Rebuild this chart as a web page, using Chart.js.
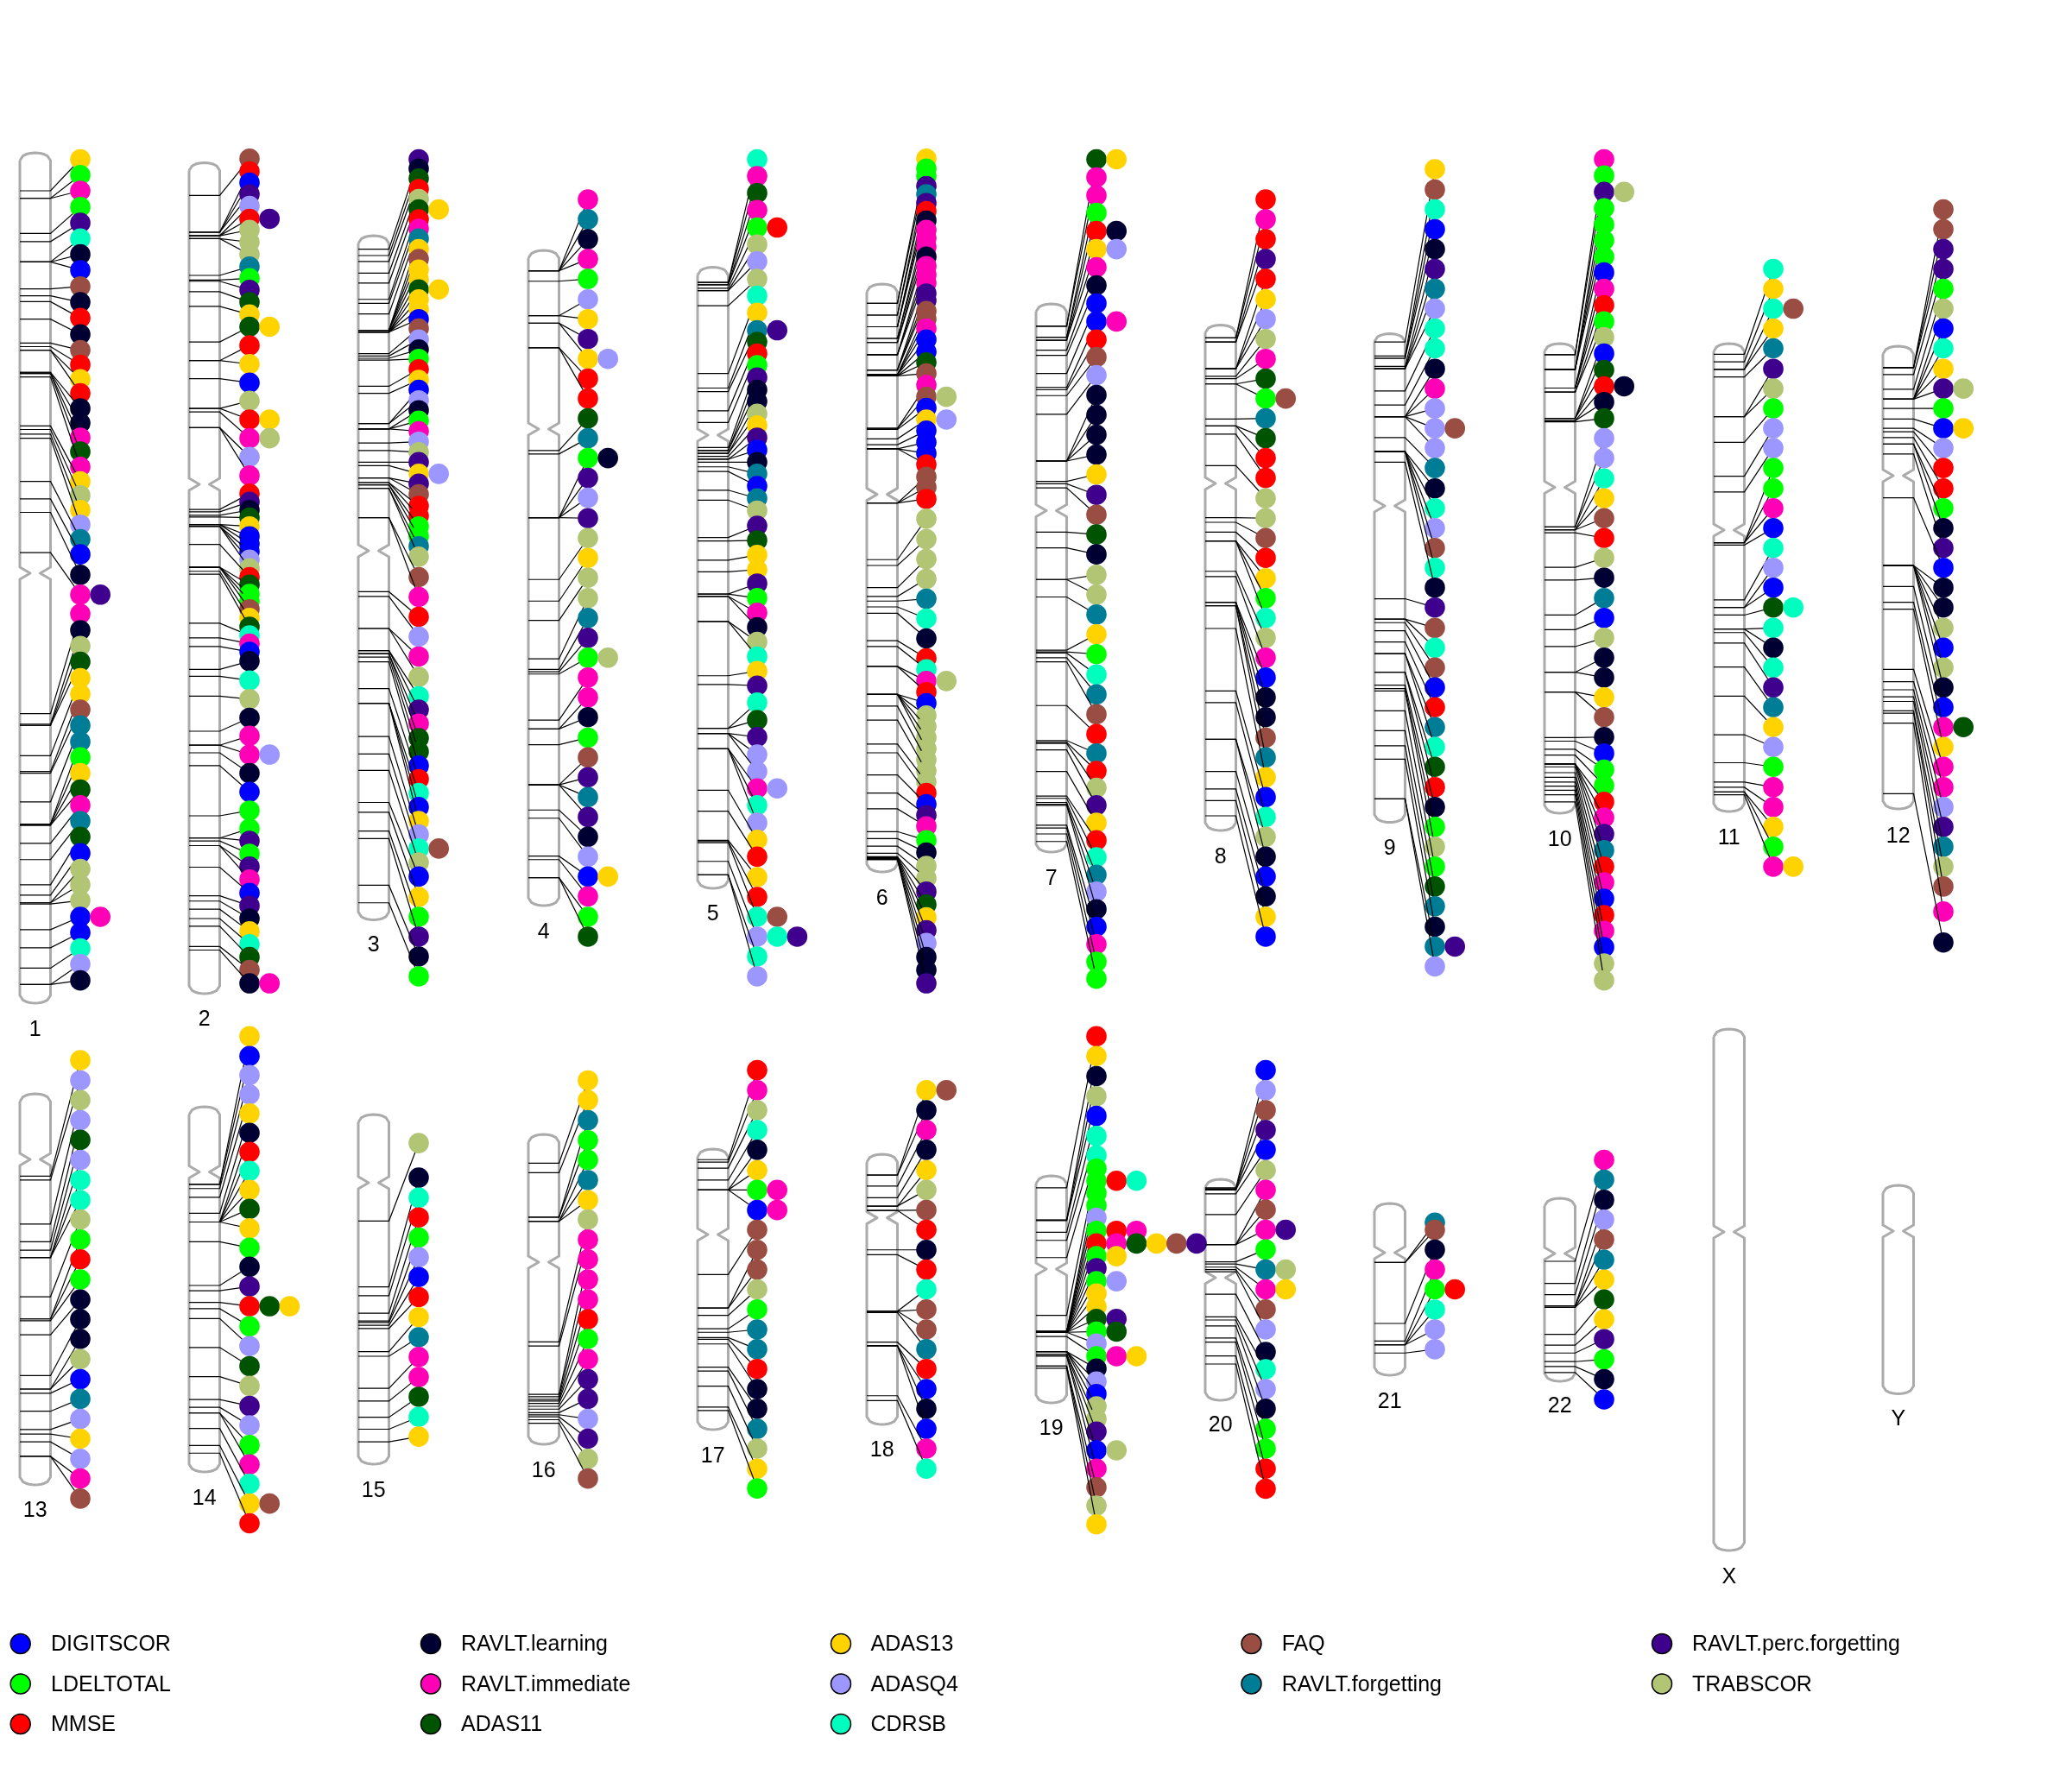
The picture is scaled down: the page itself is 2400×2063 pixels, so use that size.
<!DOCTYPE html>
<html><head><meta charset="utf-8"><title>PhenoGram</title>
<style>html,body{margin:0;padding:0;background:#fff}canvas{display:block}</style>
<script src="https://cdn.jsdelivr.net/npm/chart.js@4/dist/chart.umd.js"></script>
</head><body><canvas id="c" width="2400" height="2063"></canvas>
<script>
// Traits
const traitCodes = "B G R N P D Y L C F T U O".split(" ");
const traitNames = ["DIGITSCOR","LDELTOTAL","MMSE","RAVLT.learning","RAVLT.immediate","ADAS11","ADAS13","ADASQ4","CDRSB","FAQ","RAVLT.forgetting","RAVLT.perc.forgetting","TRABSCOR"];
const traitColors = ["#0000FF","#00FF00","#FF0000","#000033","#FF00B6","#005300","#FFD300","#9C96FF","#00FFBE","#9A4D42","#007D96","#3F008E","#B1C575"];
const chromosomes = ["1","2","3","4","5","6","7","8","9","10","11","12","13","14","15","16","17","18","19","20","21","22","X","Y"];

// One token per label row; extra letters are further traits on the same SNP
const chr1Traits = "Y G P G U C N B F N R N F R Y R N N P D P Y O Y L T B N PU P N O D Y Y F T T G Y D P T D B O O O BP B C L N".split(" ");
const chr1Rows = [51,78,105,133,160,187,214,241,269,296,323,351,378,403,428,452,478,503,528,552,578,603,627,652,677,702,728,763,797,830,858,885,912,940,967,994,1021,1049,1076,1103,1131,1158,1185,1212,1240,1267,1294,1321,1349,1376,1403,1430,1458];
const chr1Bands = [105,118,118,178,192,227,227,227,273,285,295,325,366,372,378,378,416,416,418,418,424,508,514,522,529,603,633,656,725,1001,1019,1021,1021,1073,1100,1103,1152,1190,1190,1192,1192,1223,1251,1294,1312,1325,1325,1327,1371,1402,1437,1465,1465];
const chr2Traits = "F R B U L RU O O O T G U D Y DY R Y B O RY PO L P R U N D Y B B B L O R D G G F Y D C P B N C O N P PL N B G G U G U P B U N Y C D F NP".split(" ");
const chr2Rows = [50,72,91,111,131,153,172,193,214,235,255,275,296,317,338,370,402,434,465,497,529,561,593,624,638,652,665,680,697,710,723,737,752,767,780,796,808,822,837,852,867,881,895,911,944,976,1008,1039,1071,1103,1135,1167,1198,1219,1241,1263,1285,1308,1330,1352,1374,1396,1418,1440,1463];
const chr2Bands = [113,176,176,176,182,182,182,187,187,250,258,260,278,303,364,396,396,427,478,478,484,511,511,651,655,661,664,677,677,677,680,680,680,711,750,750,750,750,757,762,846,871,886,925,937,971,1031,1055,1055,1068,1090,1176,1214,1214,1219,1227,1227,1264,1313,1322,1336,1352,1365,1400,1406];
const chr3Traits = "U N D R O DY R P T Y F Y Y DY Y Y B F L N G R Y B L N G P L O U YL U F R R G G T O F P R L P O C U P D D B R C B Y L CF O B Y G U N G".split(" ");
const chr3Rows = [51,67,84,102,119,137,154,170,187,205,222,240,257,274,291,308,325,341,360,377,393,411,429,446,464,481,499,517,535,553,570,590,607,625,645,662,680,697,714,732,767,801,835,869,903,938,971,994,1018,1043,1066,1090,1113,1137,1161,1185,1208,1232,1256,1280,1315,1349,1383,1417,1451];
const chr3Bands = [205,216,226,246,263,291,298,316,344,344,344,344,347,347,347,347,347,384,388,392,395,440,452,504,504,513,513,513,537,550,570,576,597,597,605,605,609,609,615,615,665,665,792,800,855,855,893,893,898,898,904,912,958,983,983,983,1040,1070,1098,1153,1170,1202,1215,1295,1325];
const chr4Traits = "P T N P G L Y U YL R R D T GN U L U O Y O O T U GO P P N G F U T U N L BY P G D".split(" ");
const chr4Rows = [120,154,188,222,256,291,325,359,393,427,461,495,529,563,597,631,666,700,734,768,803,837,871,905,939,973,1007,1042,1076,1110,1144,1178,1212,1246,1280,1314,1349,1383];
const chr4Bands = [242,242,242,242,260,319,319,332,332,374,374,550,556,665,665,665,665,771,808,841,907,925,929,933,1012,1027,1027,1054,1123,1123,1123,1123,1166,1180,1245,1251,1282,1282];
const chr5Traits = "C P D P GR O L O C Y TU D R G U N N O Y U B N T B T O U D Y Y U G P N O C Y U C D U L L PL C L Y R Y R CF LCU C L".split(" ");
const chr5Rows = [51,80,109,138,168,197,226,256,285,314,344,364,384,404,425,446,466,487,507,528,549,570,590,611,632,653,679,704,729,754,778,803,828,853,878,903,928,953,982,1012,1041,1071,1100,1129,1158,1188,1217,1246,1281,1315,1349,1383,1417,1451];
const chr5Bands = [262,262,266,266,272,276,276,302,418,443,449,482,502,545,550,550,555,555,560,565,565,570,578,586,618,635,699,705,738,758,796,796,800,800,843,843,936,951,1026,1026,1035,1035,1035,1061,1061,1061,1132,1168,1218,1220,1222,1254,1277,1277];
const chr6Traits = "Y G G U T U R N P P P N P P P U U F F P B B D F P FO B YL B B B R F F R O O O O T C N R C PO R B O O O O O O O R B U P G N O O U D Y U L N N U".split(" ");
const chr6Rows = [50,67,80,97,111,126,140,156,172,186,201,218,234,249,263,281,293,311,325,341,360,381,399,418,438,458,477,497,516,536,555,574,595,613,633,667,702,736,770,804,838,872,906,925,945,964,983,1004,1023,1042,1061,1080,1099,1118,1137,1156,1175,1194,1218,1239,1262,1283,1306,1328,1350,1372,1394,1418,1440,1463];
const chr6Bands = [298,298,318,318,338,338,338,358,358,365,365,386,386,386,412,412,412,420,420,420,420,422,422,422,512,512,514,530,540,547,547,547,640,640,640,737,747,785,800,808,818,829,876,886,920,920,968,968,968,968,968,988,1012,1053,1068,1106,1137,1164,1203,1215,1228,1240,1246,1247,1248,1249,1250,1250,1251,1251];
const chr7Traits = "DY P P G RN YL P N B BP R F L N N N N Y U F D N O O T Y G C T F R T R O U Y R C T L N B P G G".split(" ");
const chr7Rows = [51,82,113,143,174,205,236,267,298,329,360,390,421,455,489,523,557,591,626,660,694,728,763,797,831,865,899,934,968,1002,1036,1069,1099,1128,1158,1188,1218,1247,1277,1306,1336,1366,1396,1426,1455];
const chr7Bands = [337,337,356,356,361,361,378,387,418,442,446,456,488,568,568,568,568,603,607,614,690,717,771,771,801,892,895,897,905,912,987,1047,1050,1052,1063,1100,1142,1146,1153,1156,1158,1192,1197,1207,1220];
const chr8Traits = "R P R U R Y L O P D GF T D R R O O F R Y G C O P B N N F T Y B C O N B N Y B".split(" ");
const chr8Rows = [120,154,188,222,256,291,325,359,393,427,461,495,529,563,597,632,666,700,734,769,803,837,871,905,939,973,1007,1042,1076,1110,1144,1178,1212,1246,1280,1314,1349,1383];
const chr8Bands = [357,357,364,364,410,410,410,423,427,436,436,496,508,508,522,576,665,673,690,705,705,705,757,766,810,810,810,816,816,855,962,982,1045,1045,1100,1130,1150,1176];
const chr9Traits = "Y F C B N U T L C C N P L LF L T N C L F C N U F C F B R T C D R N G O G D T N TU L".split(" ");
const chr9Rows = [68,103,137,171,205,239,273,307,341,375,410,444,478,512,546,580,615,649,683,717,751,785,819,854,888,922,956,990,1024,1058,1092,1127,1161,1195,1229,1263,1297,1331,1366,1400,1434];
const chr9Bands = [364,388,392,392,406,410,410,410,448,472,492,492,492,492,492,528,552,552,552,552,552,570,804,839,839,845,859,878,898,898,930,930,952,958,962,996,1030,1056,1079,1147,1147];
const chr10Traits = "P G UO G G G G B P R G O B D RN N D L L C Y F R O N T B O N N Y F N B G G R P U T R P B R P B O O".split(" ");
const chr10Rows = [51,79,107,135,163,190,218,245,273,301,329,356,384,412,440,467,495,529,563,598,632,666,700,734,768,803,837,871,905,939,973,1007,1041,1069,1097,1124,1152,1179,1207,1235,1263,1290,1318,1346,1373,1401,1429,1458];
const chr10Bands = [386,386,411,411,411,411,443,443,443,450,450,495,495,495,499,499,501,681,681,686,686,686,691,750,772,832,857,886,930,930,964,964,1042,1048,1062,1072,1087,1087,1087,1087,1092,1102,1110,1118,1125,1132,1140,1152];
const chr11Traits = "C Y CF Y T U O G L L G G P B C L B DC C N C U T Y L G P P Y G PY".split(" ");
const chr11Rows = [239,273,307,341,375,410,444,478,512,546,580,615,649,683,717,751,785,819,854,888,922,956,990,1024,1058,1092,1127,1161,1195,1229,1263];
const chr11Bands = [385,398,411,411,424,492,492,536,594,621,708,708,708,712,806,819,819,832,856,856,862,880,921,971,1037,1085,1118,1127,1135,1135,1140];
const chr12Traits = "F F U U G O B C Y UO G BY L R R G N U B N N O B O N B PD Y P P L U T O F P N".split(" ");
const chr12Rows = [137,171,205,239,273,307,341,375,410,444,478,512,546,580,615,649,683,717,751,785,819,854,888,922,956,990,1024,1058,1092,1127,1161,1195,1229,1263,1297,1340,1393];
const chr12Bands = [408,408,408,420,445,462,462,462,462,462,478,496,512,518,528,539,539,556,631,747,747,747,747,747,747,783,810,822,925,946,960,972,980,996,1000,1017,1138];
const chr13Traits = "Y L O L D L C C O G R G N N N O B T L Y L P F".split(" ");
const chr13Rows = [118,175,231,288,344,401,458,515,570,627,683,740,797,853,909,966,1023,1079,1136,1192,1249,1305,1362];
const chr13Bands = [447,458,583,633,657,678,678,678,789,852,852,857,897,1013,1051,1051,1063,1114,1166,1179,1201,1242,1242];
const chr14Traits = "Y B L L Y N R C Y D Y G N U RDY G L D O U L G P C YF R".split(" ");
const chr14Rows = [50,106,160,215,269,324,378,432,486,540,595,650,704,760,816,873,929,986,1042,1099,1154,1210,1265,1320,1376,1432];
const chr14Bands = [470,470,482,507,552,577,577,577,577,577,577,633,757,772,805,823,851,933,1016,1081,1103,1119,1119,1163,1211,1233];
const chr15Traits = "O N C R G L B R Y T P P D C Y".split(" ");
const chr15Rows = [353,451,508,564,621,677,733,790,847,904,960,1017,1073,1130,1186];
const chr15Bands = [574,761,786,836,858,862,870,879,945,958,1049,1085,1131,1165,1201];
const chr16Traits = "Y Y T G G T Y O P P P P R G P U U L U O F".split(" ");
const chr16Rows = [175,231,288,345,401,458,515,570,627,683,740,797,853,909,966,1023,1079,1136,1192,1249,1305];
const chr16Bands = [410,437,563,563,575,575,575,917,929,1066,1073,1080,1085,1092,1100,1108,1118,1124,1130,1138,1148];
const chr17Traits = "R P O C N Y GP BP F F F O G T T R N N T O Y G".split(" ");
const chr17Rows = [146,203,260,316,372,430,486,543,599,656,712,768,825,882,938,994,1051,1107,1164,1220,1277,1333];
const chr17Bands = [400,407,424,458,486,486,486,486,726,821,821,842,880,890,905,910,923,989,1000,1043,1102,1112];
const chr18Traits = "YF N P N Y O F R N R C F F T R B N B P C".split(" ");
const chr18Rows = [203,260,316,372,430,486,543,599,656,712,768,825,882,938,994,1051,1107,1164,1220,1277];
const chr18Bands = [444,444,475,508,532,532,544,544,656,670,830,830,830,834,918,928,928,928,1070,1084];
const chr19Traits = "R Y N O B C C G GRC G G L GRP RPDYFU GY U GL Y Y DU GD L GPY N L B O O U BO P F O Y".split(" ");
const chr19Rows = [50,106,163,220,276,333,388,425,460,495,530,565,602,638,674,708,745,780,817,852,888,922,958,993,1030,1065,1100,1136,1172,1225,1277,1330,1382,1435];
const chr19Bands = [480,571,572,573,606,629,678,842,888,888,888,888,888,888,888,890,890,890,890,890,890,890,902,945,945,945,945,952,952,957,957,986,986,992];
const chr20Traits = "B L F U B O P F PU G TO PY F L N C L N G G R R".split(" ");
const chr20Rows = [146,203,260,316,372,430,486,542,599,655,712,768,825,882,946,995,1051,1107,1164,1220,1277,1334];
const chr20Bands = [480,482,484,486,497,556,641,641,641,690,696,705,712,718,782,846,855,872,906,918,957,980];
const chr21Traits = "T F N P GR C L L".split(" ");
const chr21Rows = [545,564,617,670,723,777,830,883];
const chr21Bands = [651,651,814,861,871,871,871,893];
const chr22Traits = "P T N L F T Y D Y U G N B".split(" ");
const chr22Rows = [377,430,484,537,590,644,697,750,803,856,910,963,1017];
const chr22Bands = [648,707,737,767,767,771,771,843,872,893,916,929,945];
const chrXTraits = [], chrXRows = [], chrXBands = [];
const chrYTraits = [], chrYRows = [], chrYBands = [];

const allTraits = [chr1Traits,chr2Traits,chr3Traits,chr4Traits,chr5Traits,chr6Traits,chr7Traits,chr8Traits,chr9Traits,chr10Traits,chr11Traits,chr12Traits,chr13Traits,chr14Traits,chr15Traits,chr16Traits,chr17Traits,chr18Traits,chr19Traits,chr20Traits,chr21Traits,chr22Traits,chrXTraits,chrYTraits];
const allRows = [chr1Rows,chr2Rows,chr3Rows,chr4Rows,chr5Rows,chr6Rows,chr7Rows,chr8Rows,chr9Rows,chr10Rows,chr11Rows,chr12Rows,chr13Rows,chr14Rows,chr15Rows,chr16Rows,chr17Rows,chr18Rows,chr19Rows,chr20Rows,chr21Rows,chr22Rows,chrXRows,chrYRows];
const allBands = [chr1Bands,chr2Bands,chr3Bands,chr4Bands,chr5Bands,chr6Bands,chr7Bands,chr8Bands,chr9Bands,chr10Bands,chr11Bands,chr12Bands,chr13Bands,chr14Bands,chr15Bands,chr16Bands,chr17Bands,chr18Bands,chr19Bands,chr20Bands,chr21Bands,chr22Bands,chrXBands,chrYBands];

// Chromosome extents on the page
const chromTop = [177,188.5,273,290,309.6,329,352,376.5,386.6,398,398,401, 1267,1282,1291,1314,1331,1337,1362,1366,1394,1388,1192,1373];
const chromBottom = [1162,1151,1065.5,1049,1029,1010,987,962,952.6,942,940,937, 1720,1705,1696,1673,1656,1650,1625,1622,1593,1600,1796,1614.5];
const chromCentromere = [664,561,638,497,504,572.6,591.5,560,586,564.5,614,551, 1343,1357.5,1370,1462,1430,1410.6,1470,1480,1451,1452,1427,1426];
const chromLabelY = [1193,1181,1095,1080,1059,1041,1018,993,983,973,971.5,969, 1750.6,1736,1727,1704,1687,1680,1655,1651,1624,1629.5,1827,1644];
const columnLeft = [23,219,415,612,808,1004,1200,1396,1592,1789,1985,2181];
const columnDots = [93,289,485,681,877,1073,1270,1466,1662,1858,2054,2251];
const chromWidth = 35.5, dotRadius = 11.8, dotStep = 23.2, capHeight = 9;
// Reading units of each chromosome's label and band arrays
const readOffset = i => i < 12 ? 150 : 1180;
const readScale = i => i < 12 ? 1.4792 : (i < 20 ? 2.45 : 2.306);

const legendColumnsDot = [23.7,499,974,1449.5,1925];
const legendColumnsText = [59,534,1008.5,1484.7,1960];
const legendRowsY = [1904,1950.5,1997];
const legendPerColumn = [3,3,3,2,2];

const colorOf = c => traitColors[traitCodes.indexOf(c)];
const datasets = [];
let drawIdx = 0;
function add(ds){ ds.order = -drawIdx; drawIdx++; ds.showLine = ds.showLine !== false; datasets.push(ds); }

function outline(i){
  const col = i % 12, L = columnLeft[col], R = L + chromWidth, T = chromTop[i], B = chromBottom[i], C = chromCentromere[i];
  const p = [], n = 10;
  for (let a = 0; a <= n; a++){ const u = 2*a/n - 1; p.push({x:L + chromWidth*a/n, y:T + capHeight*(1 - Math.sqrt(1 - u*u))}); }
  p.push({x:R,y:C-7},{x:R-12,y:C},{x:R,y:C+7});
  for (let a = 0; a <= n; a++){ const u = 2*a/n - 1; p.push({x:R - chromWidth*a/n, y:B - capHeight*(1 - Math.sqrt(1 - u*u))}); }
  p.push({x:L,y:C+7},{x:L+12,y:C},{x:L,y:C-7},{x:L,y:T+capHeight});
  return p;
}
chromosomes.forEach((name,i) => add({label:"chr"+name, data:outline(i), borderColor:"#ABABAB", borderWidth:3, pointRadius:0, borderJoinStyle:"round"}));

chromosomes.forEach((name,i) => {
  const col = i % 12, L = columnLeft[col], R = L + chromWidth, cx = columnDots[col], off = readOffset(i), sc = readScale(i);
  const tr = allTraits[i], rows = allRows[i], bands = allBands[i];
  if (tr.length !== rows.length || tr.length !== bands.length) throw new Error("length mismatch chr"+name+": "+tr.length+" "+rows.length+" "+bands.length);
  tr.forEach((tok,k) => {
    const y = off + rows[k]/sc, b = off + bands[k]/sc, codes = tok.split("");
    const pts = [{x:L,y:b},{x:R,y:b},{x:cx,y:y}], rad = [0,0,dotRadius], fill = ["#000","#000",colorOf(codes[0])];
    codes.slice(1).forEach((c,e) => {
      pts.push({x:null,y:null},{x:cx+(e+1)*dotStep,y:y}); rad.push(0,dotRadius); fill.push("#000",colorOf(c));
    });
    add({label:"chr"+name+" SNP "+(k+1), data:pts, borderColor:"#000", borderWidth:1.2, pointRadius:rad, pointBackgroundColor:fill, pointBorderWidth:0, spanGaps:false});
  });
});

// Legend marks (column by column)
const legendItems = [];
{ let t = 0; legendPerColumn.forEach((cnt,c) => { for (let r = 0; r < cnt; r++){ legendItems.push({t:t, c:c, r:r}); t++; } }); }
legendItems.forEach(it => add({label:traitNames[it.t], showLine:false, data:[{x:legendColumnsDot[it.c],y:legendRowsY[it.r]}], pointRadius:11.5, pointBackgroundColor:traitColors[it.t], pointBorderColor:"#000", pointBorderWidth:1.5}));

const textPlugin = { id:"texts", afterDatasetsDraw(chart){
  const ctx = chart.ctx, sx = chart.scales.x, sy = chart.scales.y;
  ctx.save(); ctx.fillStyle = "#000"; ctx.font = '25px "Liberation Sans"'; ctx.textBaseline = "middle";
  ctx.textAlign = "center";
  chromosomes.forEach((name,i) => ctx.fillText(name, sx.getPixelForValue(columnLeft[i%12]+chromWidth/2), sy.getPixelForValue(chromLabelY[i])));
  ctx.textAlign = "left";
  legendItems.forEach(it => ctx.fillText(traitNames[it.t], sx.getPixelForValue(legendColumnsText[it.c]), sy.getPixelForValue(legendRowsY[it.r]+1.5)));
  ctx.restore();
}};

new Chart(document.getElementById("c"), {
  type:"scatter",
  data:{datasets},
  options:{
    responsive:false, animation:false, events:[], devicePixelRatio:1,
    layout:{padding:0,autoPadding:false},
    elements:{line:{tension:0,fill:false}},
    plugins:{legend:{display:false},tooltip:{enabled:false},title:{display:false}},
    scales:{
      x:{type:"linear",min:0,max:2400,display:false},
      y:{type:"linear",min:0,max:2063,reverse:true,display:false}
    }
  },
  plugins:[textPlugin]
});
</script></body></html>
